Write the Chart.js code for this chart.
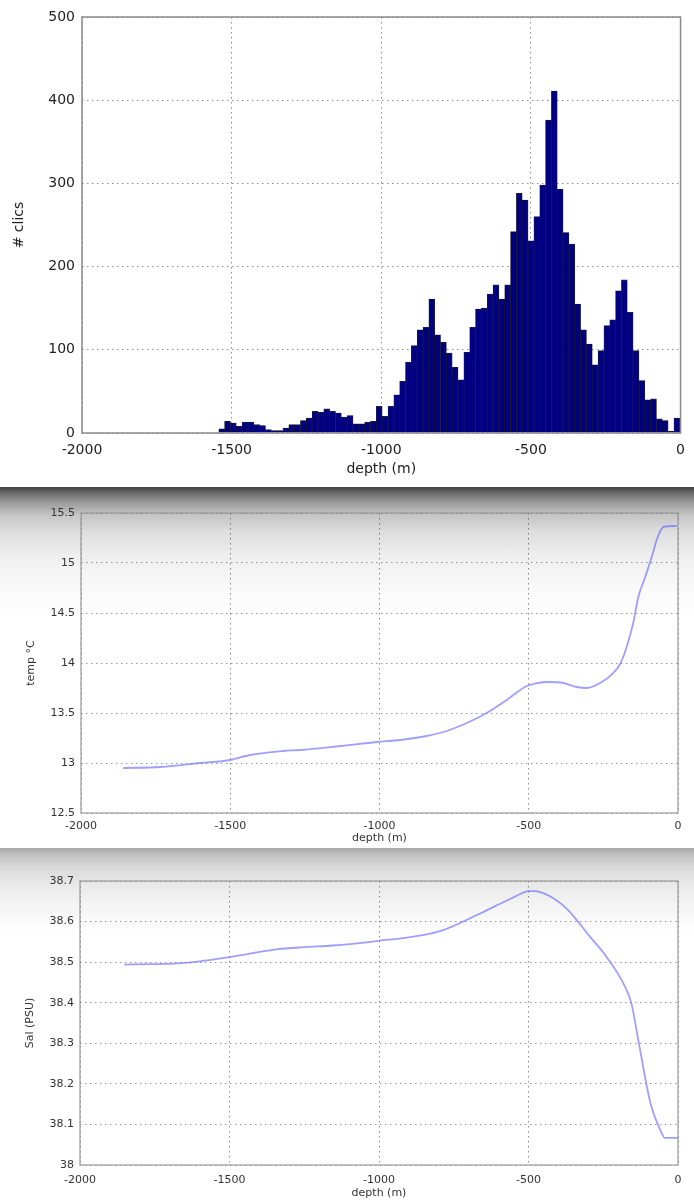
<!DOCTYPE html>
<html>
<head>
<meta charset="utf-8">
<script src="https://cdn.jsdelivr.net/npm/chart.js@4.4.1/dist/chart.umd.min.js"></script>
<style>
  html, body { margin: 0; padding: 0; background: #fff; }
  body { width: 694px; height: 1200px; position: relative; overflow: hidden; font-family: "DejaVu Sans", sans-serif; }
  .panel { position: absolute; left: 0; width: 694px; }
  #p1 { top: 0; height: 485px; }
  #p2 { top: 487px; height: 358px;
        background: linear-gradient(to bottom, #404040 0px, #6a6a6a 6px, #9c9c9c 16px, #c4c4c4 28px, #dedede 45px, #efefef 70px, #f9f9f9 100px, #ffffff 130px); }
  #p3 { top: 848px; height: 352px;
        background: linear-gradient(to bottom, #a8a8a8 0px, #c4c4c4 8px, #dadada 20px, #eaeaea 38px, #f5f5f5 60px, #ffffff 85px); }
  canvas { display: block; }
</style>
</head>
<body>
<div class="panel" id="p1"><canvas id="histChart" width="694" height="485"></canvas></div>
<div class="panel" id="p2"><canvas id="tempChart" width="694" height="358"></canvas></div>
<div class="panel" id="p3"><canvas id="salChart" width="694" height="352"></canvas></div>

<script>
// Histogram of clic depths (bin centres in m, ~19.5 m wide bins)
const histDepth = [
  -1533.25, -1513.75, -1494.25, -1474.75, -1455.25, -1435.75, -1416.25, -1396.75, -1377.25, -1357.75,
  -1338.25, -1318.75, -1299.25, -1279.75, -1260.25, -1240.75, -1221.25, -1201.75, -1182.25, -1162.75,
  -1143.25, -1123.75, -1104.25, -1084.75, -1065.25, -1045.75, -1026.25, -1006.75, -987.25, -967.75,
  -948.25, -928.75, -909.25, -889.75, -870.25, -850.75, -831.25, -811.75, -792.25, -772.75,
  -753.25, -733.75, -714.25, -694.75, -675.25, -655.75, -636.25, -616.75, -597.25, -577.75,
  -558.25, -538.75, -519.25, -499.75, -480.25, -460.75, -441.25, -421.75, -402.25, -382.75,
  -363.25, -343.75, -324.25, -304.75, -285.25, -265.75, -246.25, -226.75, -207.25, -187.75,
  -168.25, -148.75, -129.25, -109.75, -90.25, -70.75, -51.25, -31.75, -12.25
]
const histCount = [
  5, 14, 12, 8, 13, 13, 10, 9, 4, 3,
  3, 6, 10, 10, 15, 18, 26, 25, 29, 26,
  24, 19, 21, 11, 11, 13, 14, 32, 20, 32,
  46, 62, 85, 105, 124, 127, 161, 118, 109, 96,
  79, 64, 97, 127, 149, 150, 167, 178, 161, 178,
  242, 288, 280, 231, 260, 298, 376, 411, 293, 241,
  227, 155, 124, 107, 82, 99, 129, 136, 171, 184,
  145, 99, 63, 40, 41, 17, 15, 2, 18
]

// Temperature profile
const tempDepth = [-1859, -1735, -1600, -1500, -1434, -1323, -1266, -1132, -1009, -931,
  -842, -775, -708, -641, -574, -507, -470, -440, -384, -339,
  -306, -261, -217, -194, -172, -150, -133, -111, -88, -69, -49, -4]
const tempValue = [12.95, 12.96, 13.0, 13.03, 13.08, 13.12, 13.13, 13.17, 13.21, 13.23,
  13.27, 13.32, 13.40, 13.50, 13.63, 13.77, 13.80, 13.81, 13.80, 13.76,
  13.75, 13.80, 13.90, 13.99, 14.16, 14.40, 14.66, 14.85, 15.06, 15.25, 15.36, 15.37]

// Salinity profile
const salDepth = [-1852, -1760, -1674, -1600, -1496, -1348, -1250, -1156, -1007, -859,
  -785, -667, -563, -496, -481, -430, -370, -296, -237, -178,
  -156, -133, -104, -89, -59, -44, 0]
const salValue = [38.494, 38.495, 38.497, 38.502, 38.513, 38.531, 38.537, 38.541, 38.552, 38.566,
  38.579, 38.618, 38.655, 38.675, 38.675, 38.663, 38.630, 38.564, 38.511, 38.441,
  38.399, 38.309, 38.193, 38.144, 38.086, 38.067, 38.067]

const depthTicks = [-2000, -1500, -1000, -500, 0]

// Draws the full box around the plot area (matplotlib style spines)
const framePlugin = {
  id: 'frame',
  afterDraw(chart, args, opts) {
    const { ctx, chartArea: a } = chart
    ctx.save()
    ctx.strokeStyle = opts.color
    ctx.lineWidth = opts.width
    ctx.strokeRect(a.left, a.top, a.right - a.left, a.bottom - a.top)
    ctx.restore()
  }
}

const fmt = v => String(Number(v.toFixed(1)))

/**
 * Common scale options for the depth axis
 */
function depthAxis(fontSize, height, labelPad, titlePad, color) {
  return {
    type: 'linear',
    min: -2000,
    max: 0,
    offset: false,
    afterBuildTicks: s => { s.ticks = depthTicks.map(v => ({ value: v })) },
    afterFit: s => { s.height = height },
    grid: { color: 'rgba(0,0,0,0.45)', drawTicks: false, offset: false },
    border: { display: false, dash: [1.5, 3.5] },
    ticks: { padding: labelPad, color: color, font: { size: fontSize }, maxRotation: 0, callback: v => String(v) },
    title: { display: true, text: 'depth (m)', color: color, font: { size: fontSize }, padding: { top: 0, bottom: titlePad } }
  }
}

function createHistogram() {
  const points = histDepth.map((d, i) => ({ x: d, y: histCount[i] }))
  return new Chart(document.getElementById('histChart'), {
    type: 'bar',
    data: {
      datasets: [{
        data: points,
        backgroundColor: '#000080',
        borderColor: 'rgba(0,0,0,0.85)',
        borderWidth: 0.6,
        barPercentage: 1.0,
        categoryPercentage: 1.0
      }]
    },
    options: {
      responsive: false,
      animation: false,
      layout: { padding: { left: 0, right: 12, top: 17, bottom: 0 } },
      scales: {
        x: depthAxis(14, 52, 9, 7, '#222'),
        y: {
          min: 0,
          max: 500,
          afterFit: s => { s.width = 82 },
          grid: { color: 'rgba(0,0,0,0.45)', drawTicks: false },
          border: { display: false, dash: [1.5, 3.5] },
          ticks: { stepSize: 100, padding: 7, color: '#222', font: { size: 14 } },
          title: { display: true, text: '# clics', color: '#222', font: { size: 14 }, padding: { top: 11 } }
        }
      },
      plugins: {
        legend: { display: false },
        tooltip: { enabled: false },
        frame: { color: '#8a8a8a', width: 1.5 }
      }
    },
    plugins: [framePlugin]
  })
}

/**
 * Creates a profile line chart (value vs depth)
 */
function createProfile(canvasID, xs, ys, yMin, yMax, step, yTitle, geom) {
  const points = xs.map((d, i) => ({ x: d, y: ys[i] }))
  return new Chart(document.getElementById(canvasID), {
    type: 'scatter',
    data: {
      datasets: [{
        data: points,
        showLine: true,
        borderColor: 'rgba(95,95,255,0.6)',
        borderWidth: 1.8,
        pointRadius: 0,
        cubicInterpolationMode: 'monotone'
      }]
    },
    options: {
      responsive: false,
      animation: false,
      layout: { padding: { left: 0, right: geom.right, top: geom.top, bottom: 0 } },
      scales: {
        x: depthAxis(11, geom.xHeight, geom.labelPad, geom.titlePad, '#333'),
        y: {
          min: yMin,
          max: yMax,
          afterFit: s => { s.width = geom.yWidth },
          grid: { color: 'rgba(0,0,0,0.4)', drawTicks: false },
          border: { display: false, dash: [1.5, 3.5] },
          ticks: { stepSize: step, padding: 6, color: '#333', font: { size: 11 }, callback: fmt },
          title: { display: true, text: yTitle, color: '#333', font: { size: 11 }, padding: { top: geom.yTitlePad } }
        }
      },
      plugins: {
        legend: { display: false },
        tooltip: { enabled: false },
        frame: { color: '#999', width: 1.2 }
      }
    },
    plugins: [framePlugin]
  })
}

// dashed gridlines for all charts
Chart.defaults.font.family = '"DejaVu Sans", sans-serif'
Chart.defaults.scale.grid.borderDash = [1.5, 3.5]

const histChart = createHistogram()
const tempChart = createProfile('tempChart', tempDepth, tempValue, 12.5, 15.5, 0.5, 'temp °C',
  { top: 26, right: 16, xHeight: 32, yWidth: 81, labelPad: 7, titlePad: 0, yTitlePad: 25 })
const salChart = createProfile('salChart', salDepth, salValue, 38, 38.7, 0.1, 'Sal (PSU)',
  { top: 33, right: 16, xHeight: 35, yWidth: 80, labelPad: 9, titlePad: 0, yTitlePad: 24 })
</script>
</body>
</html>
